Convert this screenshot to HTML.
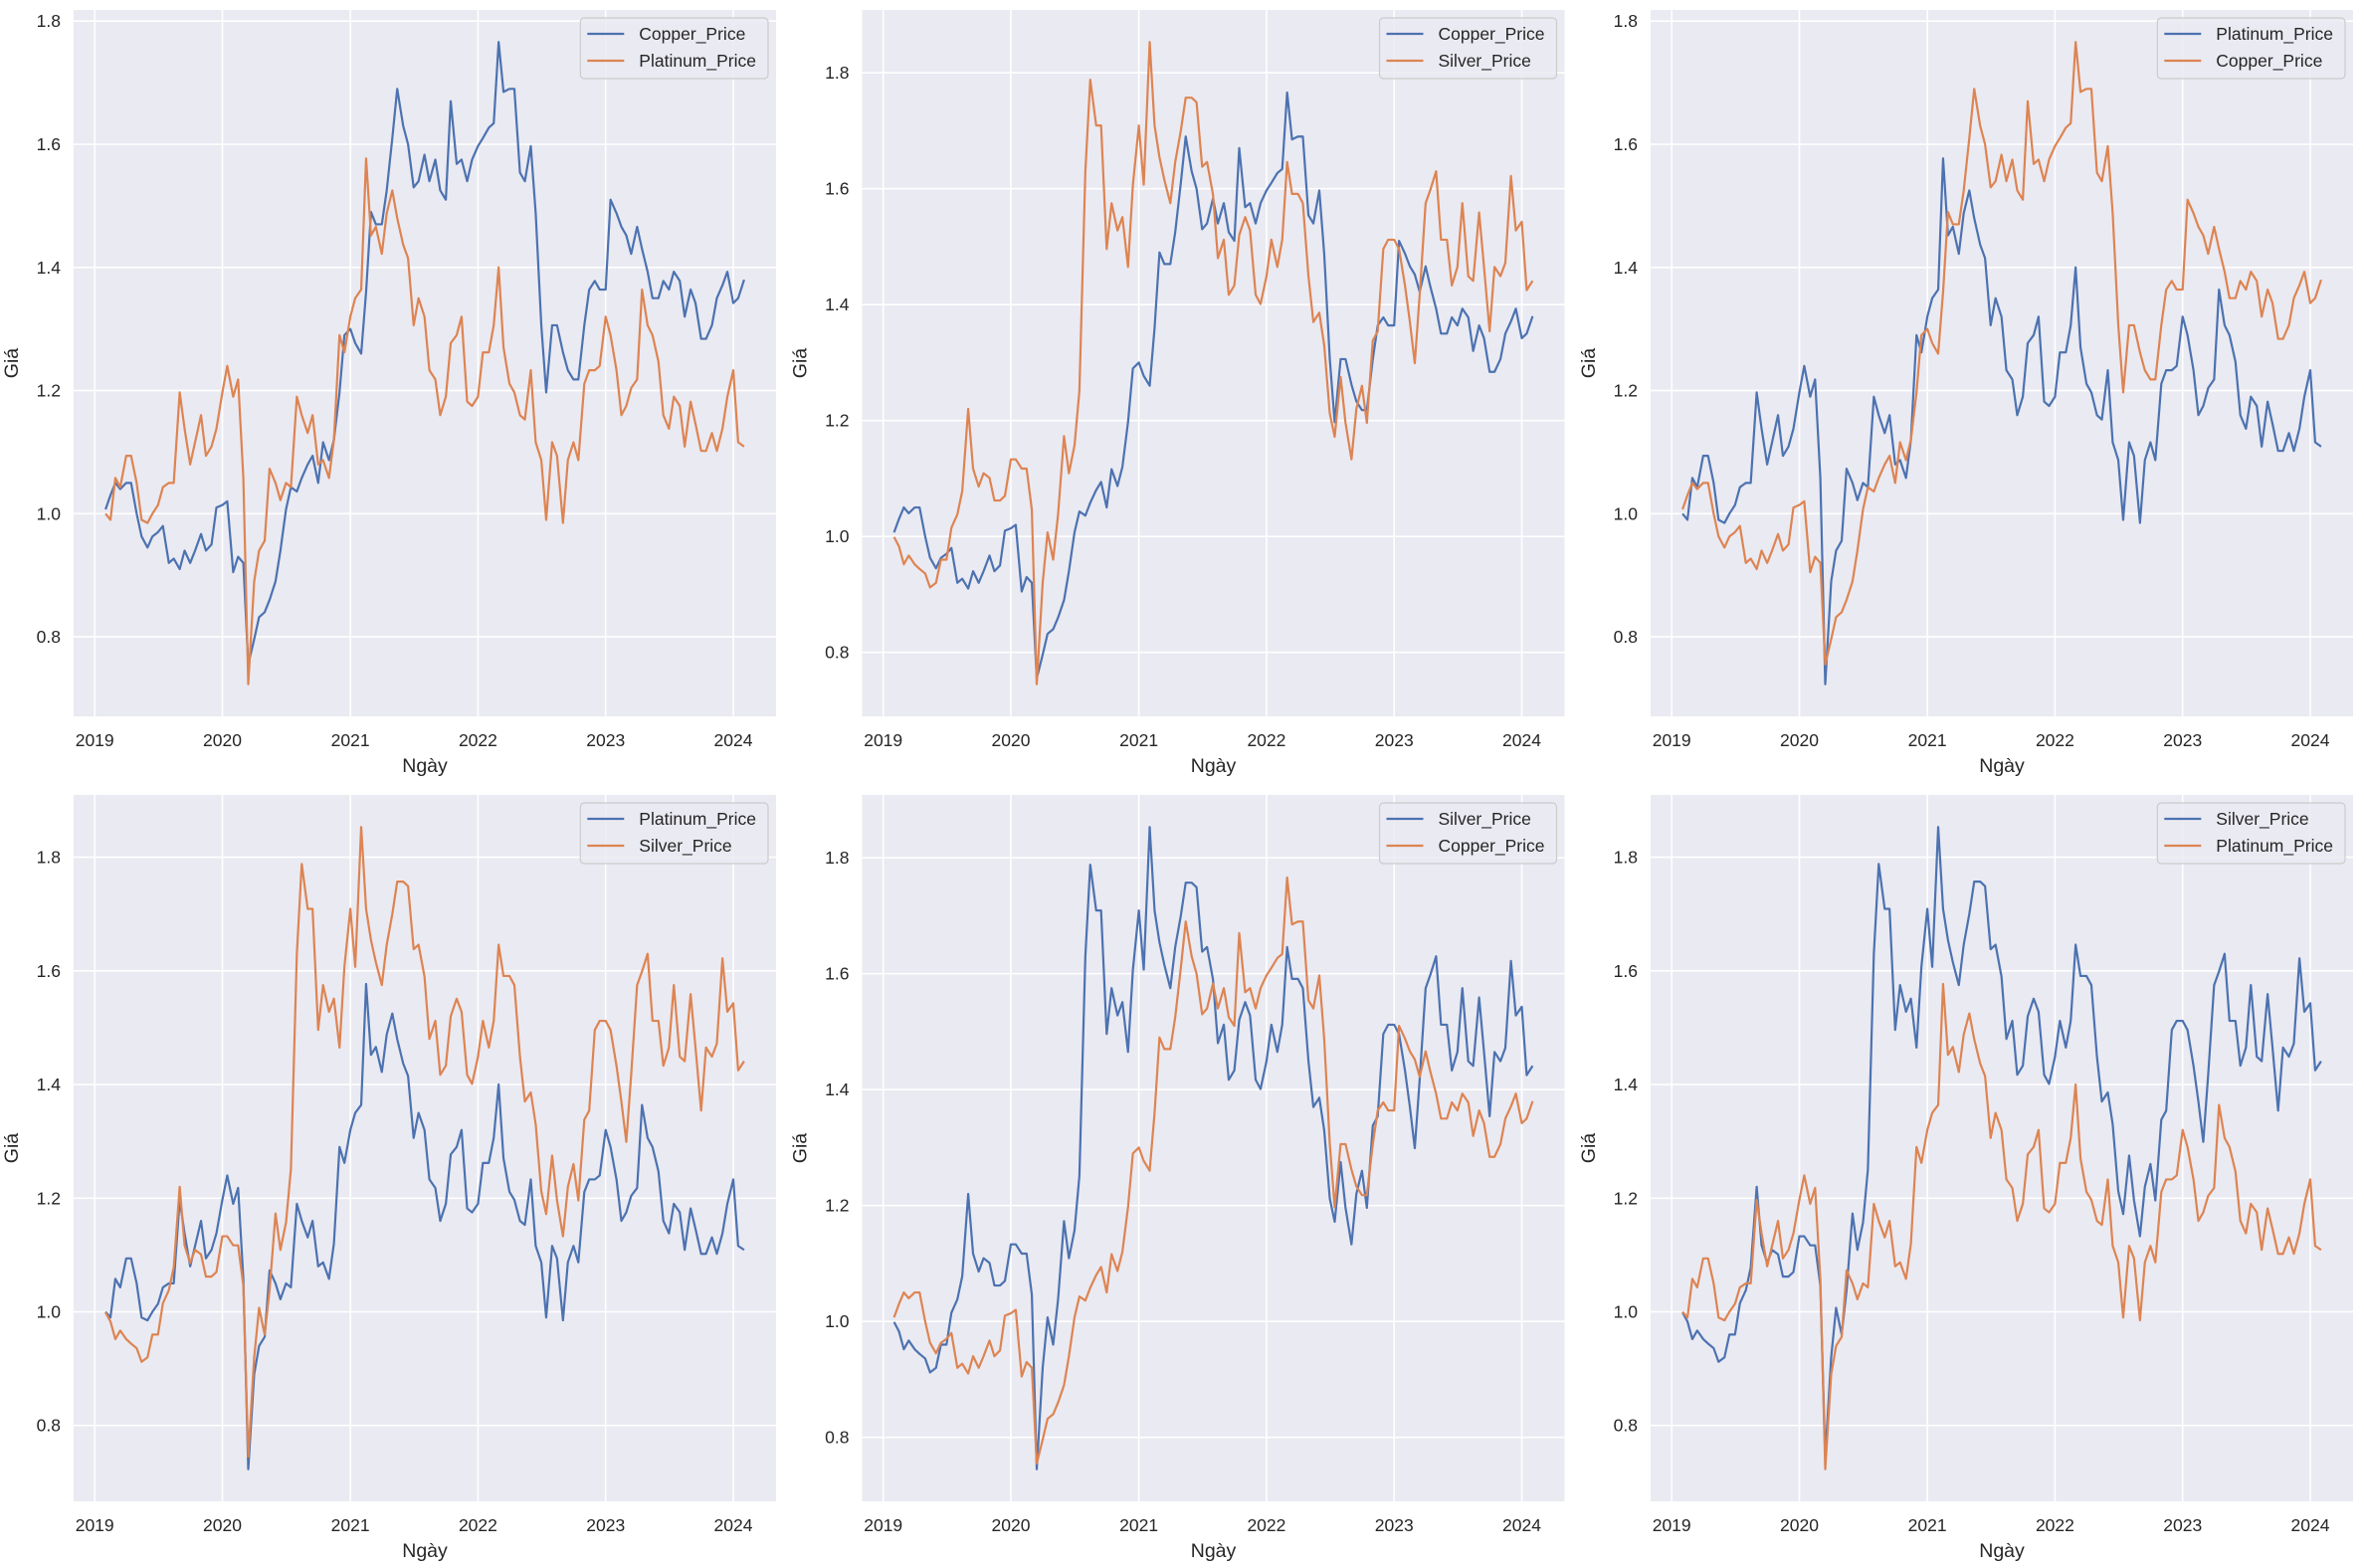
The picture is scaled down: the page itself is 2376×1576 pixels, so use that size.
<!DOCTYPE html>
<html><head><meta charset="utf-8"><style>
html,body{margin:0;padding:0;background:#fff;}
svg{display:block;font-family:"Liberation Sans",sans-serif;}
</style></head><body>
<svg id="fig" width="2376" height="1576" viewBox="0 0 2376 1576" xmlns="http://www.w3.org/2000/svg"></svg>
<script>
const copperValues=[1.007,1.03,1.05,1.04,1.05,1.05,1.0,0.963,0.945,0.963,0.97,0.98,0.92,0.927,0.91,0.94,0.92,0.94,0.967,0.94,0.95,1.01,
1.014,1.02,0.905,0.93,0.92,0.755,0.796,0.832,0.84,0.86,0.89,0.94,1.007,1.043,1.036,1.058,1.08,1.094,1.05,1.116,1.087,1.12,1.197,1.29,
1.30,1.277,1.26,1.36,1.49,1.47,1.47,1.525,1.61,1.69,1.63,1.60,1.53,1.54,1.583,1.54,1.575,1.525,1.51,1.67,1.568,1.575,1.54,1.575,
1.597,1.61,1.627,1.634,1.766,1.685,1.69,1.69,1.554,1.54,1.597,1.488,1.306,1.197,1.306,1.306,1.262,1.233,1.218,1.218,1.306,1.364,1.378,1.364,
1.364,1.51,1.488,1.466,1.452,1.422,1.466,1.43,1.393,1.35,1.35,1.378,1.364,1.393,1.378,1.32,1.364,1.342,1.284,1.284,1.306,1.35,1.371,1.393,
1.342,1.35,1.38];
const platinumValues=[1.0,0.99,1.058,1.043,1.094,1.094,1.05,0.99,0.985,1.0,1.014,1.043,1.05,1.05,1.197,1.138,1.08,1.116,1.16,1.094,1.109,1.138,
1.197,1.24,1.19,1.218,1.058,0.723,0.89,0.94,0.956,1.073,1.05,1.022,1.05,1.043,1.19,1.16,1.131,1.16,1.08,1.087,1.058,1.12,1.29,1.262,
1.32,1.35,1.364,1.577,1.452,1.466,1.422,1.488,1.525,1.48,1.437,1.415,1.306,1.35,1.32,1.233,1.218,1.16,1.19,1.277,1.29,1.32,1.182,1.175,
1.19,1.262,1.262,1.306,1.40,1.27,1.211,1.197,1.16,1.153,1.233,1.116,1.087,0.99,1.116,1.094,0.985,1.087,1.116,1.087,1.211,1.233,1.233,1.24,
1.32,1.29,1.233,1.16,1.175,1.204,1.218,1.364,1.306,1.29,1.247,1.16,1.138,1.19,1.175,1.109,1.182,1.146,1.102,1.102,1.131,1.102,1.138,1.19,
1.233,1.116,1.109];
const silverValues=[0.999,0.983,0.952,0.967,0.952,0.944,0.936,0.912,0.92,0.96,0.96,1.015,1.038,1.078,1.22,1.117,1.086,1.109,1.101,1.062,1.062,1.07,
1.133,1.133,1.117,1.117,1.046,0.745,0.92,1.007,0.96,1.038,1.173,1.109,1.157,1.251,1.63,1.788,1.709,1.709,1.496,1.575,1.528,1.551,1.465,1.607,
1.709,1.607,1.853,1.709,1.654,1.615,1.575,1.646,1.70,1.757,1.757,1.749,1.638,1.646,1.59,1.48,1.512,1.417,1.433,1.52,1.551,1.528,1.417,1.401,
1.449,1.512,1.465,1.512,1.646,1.591,1.591,1.575,1.449,1.37,1.386,1.33,1.212,1.172,1.275,1.196,1.133,1.22,1.26,1.196,1.338,1.354,1.496,1.512,
1.512,1.496,1.433,1.37,1.299,1.417,1.575,1.599,1.63,1.512,1.512,1.433,1.465,1.575,1.449,1.441,1.559,1.465,1.354,1.465,1.449,1.472,1.622,1.528,
1.543,1.425,1.441];
const yTicks=[0.8,1.0,1.2,1.4,1.6,1.8];
const yTickLabels=["0.8","1.0","1.2","1.4","1.6","1.8"];
const xTickYears=[2019,2020,2021,2022,2023,2024];
const seriesNames=["Copper_Price","Platinum_Price","Silver_Price"];
const panelPairs=[[0,1],[0,2],[1,0],[1,2],[2,0],[2,1]];

// semi-monthly date categories (1st and 15th), Feb 2019 .. Feb 1 2024
const dates=[];
for(let y=2019;y<=2024;y++){for(let m=0;m<12;m++){
  if(y===2019&&m===0)continue;
  if(y===2024&&m>1)continue;
  dates.push(Date.UTC(y,m,1));
  if(!(y===2024&&m===1))dates.push(Date.UTC(y,m,15));
}}
const allSeries=[copperValues,platinumValues,silverValues];
const DAY=86400000;
const NS="http://www.w3.org/2000/svg";
const svg=document.getElementById('fig');
function el(tag,attrs,parent){const e=document.createElementNS(NS,tag);for(const k in attrs)e.setAttribute(k,attrs[k]);(parent||svg).appendChild(e);return e;}
const lefts=[74,866.5,1659],tops=[10,799],W=706,H=710;
const colors=["#4c72b0","#dd8452"];
const t0=dates[0],t1=dates[dates.length-1],xm=(t1-t0)*0.05;
const xMin=t0-xm,xMax=t1+xm;

panelPairs.forEach((pair,pi)=>{
  const L=lefts[pi%3],T=tops[Math.floor(pi/3)];
  const g=el('g',{});
  
  
  const a=allSeries[pair[0]],b=allSeries[pair[1]];
  const mn=Math.min(...a,...b),mx=Math.max(...a,...b),ym=(mx-mn)*0.05;
  const yMin=mn-ym,yMax=mx+ym;
  const xs=t=>L+(t-xMin)/(xMax-xMin)*W;
  const ys=v=>T+H-(v-yMin)/(yMax-yMin)*H;
  const bg=el('rect',{x:L,y:T,width:W,height:H,fill:'#eaeaf2'},g);
  
  
  yTicks.forEach((v,i)=>{
    if(v<yMin||v>yMax)return;
    const gl=el('line',{x1:L,x2:L+W,y1:ys(v),y2:ys(v),stroke:'#fff','stroke-width':1.6},g);
    
    
    const tl=el('text',{x:L-13,y:ys(v)+6,'text-anchor':'end','font-size':17.5,fill:'#262626'},g);
    tl.textContent=yTickLabels[i];
    
    
  });
  xTickYears.forEach(yr=>{
    const x=xs(Date.UTC(yr,0,1));
    const gl=el('line',{x1:x,x2:x,y1:T,y2:T+H,stroke:'#fff','stroke-width':1.6},g);
    
    
    const tl=el('text',{x:x,y:T+H+30,'text-anchor':'middle','font-size':17.5,fill:'#262626'},g);
    tl.textContent=String(yr);
    
    
  });
  pair.forEach((si,k)=>{
    const vals=allSeries[si];
    const d=vals.map((v,i)=>(i?'L':'M')+xs(dates[i]).toFixed(2)+' '+ys(v).toFixed(2)).join(' ');
    const p=el('path',{d:d,fill:'none',stroke:colors[k],'stroke-width':2.2,'stroke-linejoin':'round'},g);
    
    
  });
  const xl=el('text',{x:L+W/2,y:T+H+56,'text-anchor':'middle','font-size':19.5,fill:'#262626'},g);
  xl.textContent='Ngày';
  
  
  const yx=L-56,yy=T+H/2;
  const yl=el('text',{x:yx,y:yy,'text-anchor':'middle','font-size':19.5,fill:'#262626',transform:'rotate(-90 '+yx+' '+yy+')'},g);
  yl.textContent='Giá';
  
  
  // legend
  const lg=el('g',{},g);
  
  
  const box=el('rect',{rx:4,ry:4,fill:'#eaeaf2','fill-opacity':0.85,stroke:'#cccccc','stroke-width':1.2},lg);
  let maxW=0;const texts=[];
  pair.forEach((si,k)=>{
    const t=el('text',{'font-size':17.5,fill:'#262626'},lg);
    t.textContent=seriesNames[si];
    
    
    texts.push(t);maxW=Math.max(maxW,t.getComputedTextLength());
  });
  const bw=59+maxW+12,bh=61,bx=L+W-8-bw,by=T+8;
  box.setAttribute('x',bx);box.setAttribute('y',by);box.setAttribute('width',bw);box.setAttribute('height',bh);
  pair.forEach((si,k)=>{
    const ry=by+16+k*27;
    const ln=el('line',{x1:bx+7,x2:bx+44,y1:ry,y2:ry,stroke:colors[k],'stroke-width':2.2},lg);
    
    
    texts[k].setAttribute('x',bx+59);texts[k].setAttribute('y',ry+6);
  });
});
</script>
</body></html>
